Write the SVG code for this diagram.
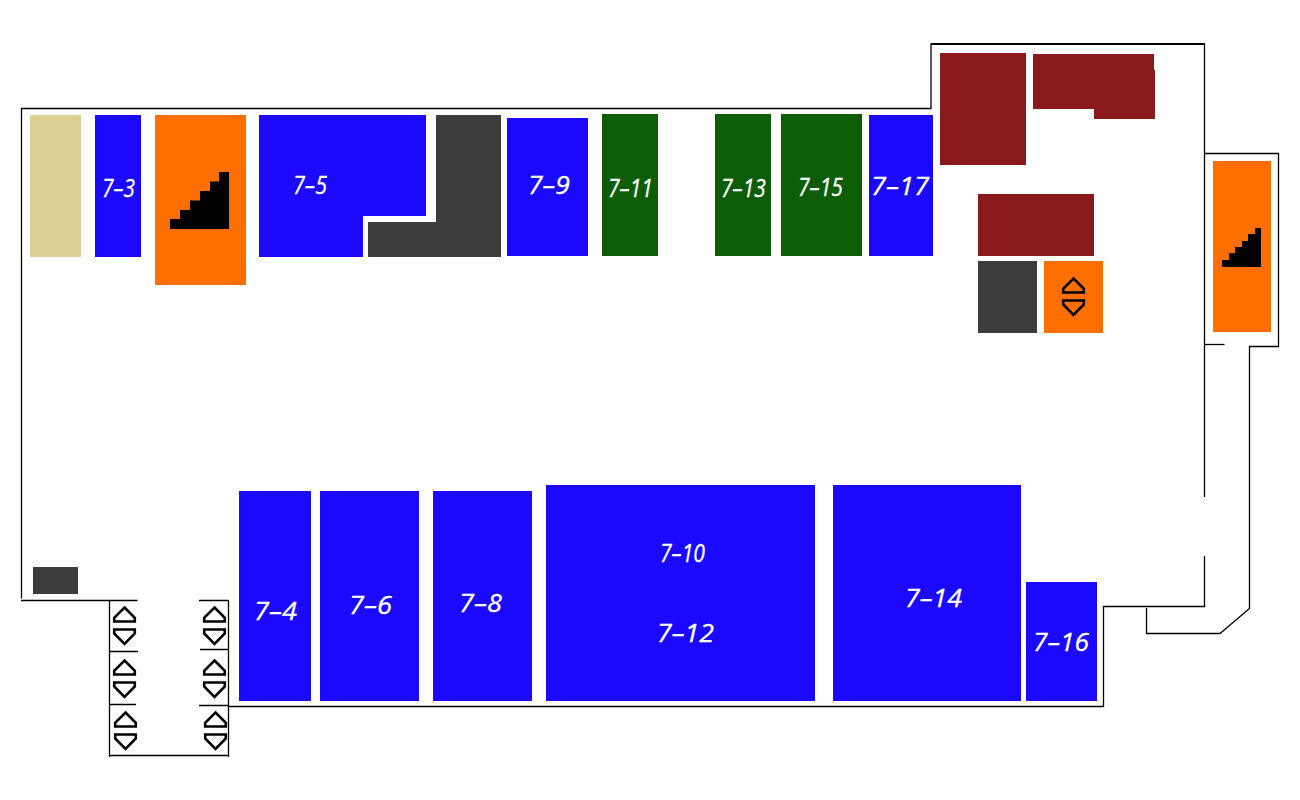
<svg xmlns="http://www.w3.org/2000/svg" width="1300" height="800" viewBox="0 0 1300 800">
<style>
.b{fill:#1a08ff}.g{fill:#0c5d05}.r{fill:#8a1919}.d{fill:#3c3c3c}.o{fill:#ff6e00}.t{fill:#dccf93}
.w{fill:none;stroke:#000;stroke-width:1.3}
.top{fill:none;stroke:#000;stroke-width:2}
.i{fill:none;stroke:#000;stroke-width:2.6}
text{font-family:"Open Sans","Noto Sans",sans-serif;font-style:italic;font-size:25px;fill:#fff;stroke:#fff;stroke-width:.3}
</style>
<defs>
<g id="lift"><path class="i" d="M0 1.500L10.300 11.800V15.500H-10.300V11.800Z"/><path class="i" d="M-10.300 23.500H10.300V27.500L0 37.800L-10.300 27.500Z"/></g>
<path id="st1" d="M0 57V47H10V38H20V28.500H30V19H40V9.500H49V0H59V57Z"/>
<path id="st2" d="M0 39V32H7V25H13V19H20V13H26V6H33V0H39V39Z"/>
</defs>
<rect width="1300" height="800" fill="#fff"/>
<g id="walls">
<path class="w" d="M21.500 598.500V108.500H931V44H1204.500V497"/>
<path class="top" d="M931 44H1204.500"/>
<path class="w" d="M1204.500 556V606.500H1103.500V706.500H228.500"/>
<path class="w" d="M21 600.500H137.500M109.500 600V757M109 755.500H228.500M228.500 600V757M199 600.500H228.500"/>
<path class="w" d="M109.500 651.500H138M200 649.500H228.500M109.500 704.500H136M199 705.500H228.500"/>
<path class="w" d="M1204.500 153.500H1278.500V346.500H1249.500V608.500L1220 633.500H1146.500V608"/>
<path class="w" d="M1204.500 344.500H1224.500"/>
</g>
<g id="room-storage"><rect class="t" x="30" y="115" width="51" height="142"/></g>
<g id="room-7-3"><rect class="b" x="95" y="115" width="46" height="142"/><text x="102" y="197" textLength="33" lengthAdjust="spacingAndGlyphs">7–3</text></g>
<g id="stairs-west"><rect class="o" x="155" y="115" width="91" height="170"/><use href="#st1" x="170" y="172"/></g>
<g id="room-7-5"><path class="b" d="M259 115H426V216H363V257H259Z"/><text x="293" y="194" textLength="34" lengthAdjust="spacingAndGlyphs">7–5</text></g>
<g id="core-north"><path class="d" d="M368 222H436V115H501V257H368Z"/></g>
<g id="room-7-9"><rect class="b" x="507" y="118" width="81" height="138"/><text x="528" y="194" textLength="42" lengthAdjust="spacingAndGlyphs">7–9</text></g>
<g id="room-7-11"><rect class="g" x="602" y="114" width="56" height="142"/><text x="608" y="197" textLength="45" lengthAdjust="spacingAndGlyphs">7–11</text></g>
<g id="room-7-13"><rect class="g" x="715" y="114" width="56" height="142"/><text x="721" y="197" textLength="45" lengthAdjust="spacingAndGlyphs">7–13</text></g>
<g id="room-7-15"><rect class="g" x="781" y="114" width="81" height="142"/><text x="798" y="196" textLength="45" lengthAdjust="spacingAndGlyphs">7–15</text></g>
<g id="room-7-17"><rect class="b" x="869" y="115" width="64" height="141"/><text x="871" y="195" textLength="58" lengthAdjust="spacingAndGlyphs">7–17</text></g>
<g id="plant-1"><rect class="r" x="940" y="53" width="86" height="112"/></g>
<g id="plant-2"><path class="r" d="M1033 54H1154V70H1155V119H1094V109H1033Z"/></g>
<g id="plant-3"><rect class="r" x="978" y="194" width="116" height="62"/></g>
<g id="core-east"><rect class="d" x="978" y="261" width="59" height="72"/></g>
<g id="lift-east"><rect class="o" x="1044" y="261" width="59" height="72"/><use href="#lift" x="1073.500" y="277"/></g>
<g id="stairs-east"><rect class="o" x="1213" y="161" width="58" height="171"/><use href="#st2" x="1222" y="228"/></g>
<g id="core-west"><rect class="d" x="33" y="567" width="45" height="27"/></g>
<g id="lifts-west"><use href="#lift" x="124.500" y="606"/><use href="#lift" x="124.500" y="659"/><use href="#lift" x="125.500" y="711"/></g>
<g id="lifts-mid"><use href="#lift" x="214.500" y="606"/><use href="#lift" x="214.500" y="659"/><use href="#lift" x="215.500" y="711"/></g>
<g id="room-7-4"><rect class="b" x="239" y="491" width="72" height="210"/><text x="254" y="620" textLength="43" lengthAdjust="spacingAndGlyphs">7–4</text></g>
<g id="room-7-6"><rect class="b" x="320" y="491" width="99" height="210"/><text x="349" y="614" textLength="43" lengthAdjust="spacingAndGlyphs">7–6</text></g>
<g id="room-7-8"><rect class="b" x="433" y="491" width="99" height="210"/><text x="459" y="612" textLength="43" lengthAdjust="spacingAndGlyphs">7–8</text></g>
<g id="room-7-10-12"><rect class="b" x="546" y="485" width="269" height="216"/><text x="660" y="562" textLength="45" lengthAdjust="spacingAndGlyphs">7–10</text><text x="657" y="642" textLength="57" lengthAdjust="spacingAndGlyphs">7–12</text></g>
<g id="room-7-14"><rect class="b" x="833" y="485" width="188" height="216"/><text x="905" y="607" textLength="57" lengthAdjust="spacingAndGlyphs">7–14</text></g>
<g id="room-7-16"><rect class="b" x="1026" y="582" width="71" height="119"/><text x="1033" y="651" textLength="56" lengthAdjust="spacingAndGlyphs">7–16</text></g>
</svg>
